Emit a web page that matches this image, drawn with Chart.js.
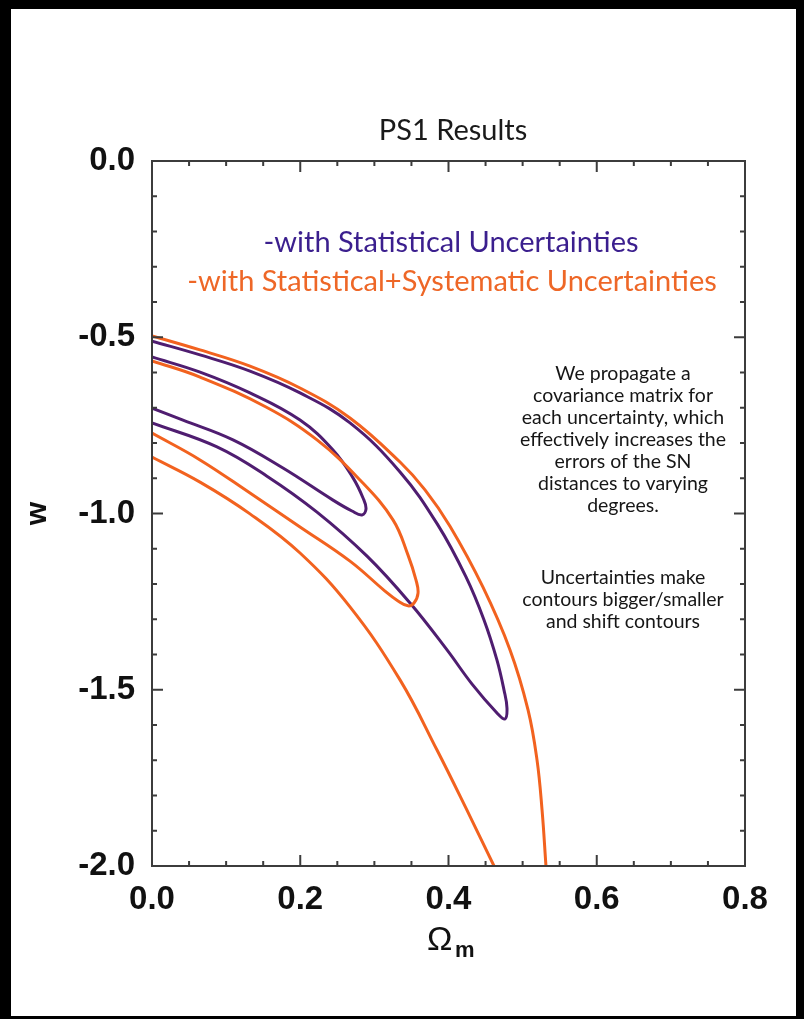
<!DOCTYPE html>
<html>
<head>
<meta charset="utf-8">
<script src="https://cdn.jsdelivr.net/npm/chart.js@4.4.0/dist/chart.umd.min.js"></script>
<style>
  html, body { margin: 0; padding: 0; background: #000; }
  #sheet { position: absolute; left: 11px; top: 9px; width: 785px; height: 1007px; background: #fff; }
  #c { position: absolute; left: 0; top: 0; }
</style>
</head>
<body>
<div id="sheet"></div>
<canvas id="c" width="804" height="1019"></canvas>
<script>
// axis ticks
const xTicks = [0.0, 0.2, 0.4, 0.6, 0.8];
const yTicks = [0.0, -0.5, -1.0, -1.5, -2.0];

// stat only, outer contour (closed against the w axis)
const stat95Om = [0, 0.0648, 0.1322, 0.1997, 0.2671, 0.3346, 0.3858, 0.4236, 0.4479, 0.4654, 0.4749, 0.4789, 0.4762,
                  0.4654, 0.4318, 0.3980, 0.3481, 0.2901, 0.2226, 0.1551, 0.0877, 0];
const stat95W  = [-0.511, -0.550, -0.596, -0.658, -0.743, -0.882, -1.033, -1.180, -1.302, -1.416, -1.501, -1.552, -1.583,
                  -1.566, -1.484, -1.387, -1.254, -1.121, -0.996, -0.894, -0.811, -0.743];

// stat only, inner contour
const stat68Om = [0, 0.0648, 0.1322, 0.1997, 0.2442, 0.2712, 0.2847, 0.2887, 0.2833,
                  0.2698, 0.2442, 0.1767, 0.1093, 0.0418, 0];
const stat68W  = [-0.556, -0.599, -0.658, -0.735, -0.820, -0.899, -0.956, -0.987, -1.004,
                  -0.993, -0.962, -0.871, -0.791, -0.735, -0.701];

// stat+sys, inner contour
const sys68Om = [0, 0.0648, 0.1538, 0.2226, 0.2806, 0.3251, 0.3454, 0.3562, 0.3589, 0.3535, 0.3454,
                 0.3319, 0.3143, 0.2671, 0.1997, 0.1322, 0.0648, 0];
const sys68W  = [-0.567, -0.613, -0.698, -0.791, -0.905, -1.018, -1.118, -1.189, -1.226, -1.254, -1.262,
                 -1.248, -1.220, -1.135, -1.038, -0.942, -0.848, -0.772];

// stat+sys, outer contour (runs off the bottom edge, two branches)
const sys95TopOm = [0, 0.0648, 0.1322, 0.1997, 0.2671, 0.3346, 0.3683, 0.4020, 0.4465, 0.4830, 0.5073, 0.5194, 0.5262, 0.5315];
const sys95TopW  = [-0.496, -0.536, -0.582, -0.644, -0.729, -0.854, -0.933, -1.036, -1.209, -1.387, -1.557, -1.699, -1.841, -2.0];
const sys95BotOm = [0, 0.0648, 0.1322, 0.1997, 0.2671, 0.3346, 0.3845, 0.4236, 0.4614];
const sys95BotW  = [-0.840, -0.911, -1.001, -1.112, -1.265, -1.472, -1.671, -1.836, -2.0];

const orange = '#f2621f';
const purple = '#4f1d70';

function pts(xs, ys) {
  return xs.map((v, i) => ({ x: v, y: ys[i] }));
}

function line(data, color) {
  return {
    data: data,
    borderColor: color,
    borderWidth: 3,
    showLine: true,
    pointRadius: 0,
    tension: 0.4,
    fill: false
  };
}

const frame = {
  id: 'frame',
  afterDatasetsDraw(chart) {
    const { ctx, chartArea: a, scales } = chart;
    const x = scales.x, y = scales.y;
    ctx.save();
    ctx.strokeStyle = '#3c3c3c';
    ctx.lineWidth = 2;
    ctx.strokeRect(a.left, a.top, a.right - a.left, a.bottom - a.top);
    ctx.beginPath();
    for (let i = 0; i <= 16; i++) {
      const v = i * 0.05;
      const len = i % 4 === 0 ? 11 : 5;
      const px = x.getPixelForValue(v);
      ctx.moveTo(px, a.bottom); ctx.lineTo(px, a.bottom - len);
      ctx.moveTo(px, a.top); ctx.lineTo(px, a.top + len);
    }
    for (let i = 0; i <= 20; i++) {
      const v = -i * 0.1;
      const len = i % 5 === 0 ? 11 : 5;
      const py = y.getPixelForValue(v);
      ctx.moveTo(a.left, py); ctx.lineTo(a.left + len, py);
      ctx.moveTo(a.right, py); ctx.lineTo(a.right - len, py);
    }
    ctx.stroke();
    ctx.restore();
  }
};

const notes = {
  id: 'notes',
  afterDraw(chart) {
    const ctx = chart.ctx;
    ctx.save();
    ctx.textAlign = 'center';
    ctx.textBaseline = 'middle';

    ctx.fillStyle = '#1a1a1a';
    ctx.font = '29px Lato';
    ctx.fillText('PS1 Results', 453, 131);

    ctx.font = '29px Lato';
    ctx.fillStyle = '#3b1f8e';
    ctx.fillText('-with Statistical Uncertainties', 451, 243);
    ctx.fillStyle = '#ee6727';
    ctx.fillText('-with Statistical+Systematic Uncertainties', 452, 282);

    ctx.fillStyle = '#161616';
    ctx.font = '19.5px Lato';
    const para = ['We propagate a', 'covariance matrix for', 'each uncertainty, which',
                  'effectively increases the', 'errors of the SN', 'distances to varying', 'degrees.'];
    para.forEach((t, i) => ctx.fillText(t, 623, 374 + i * 22));
    const para2 = ['Uncertainties make', 'contours bigger/smaller', 'and shift contours'];
    para2.forEach((t, i) => ctx.fillText(t, 623, 578 + i * 22));

    // x axis title with subscript
    ctx.fillStyle = '#111';
    ctx.textAlign = 'left';
    ctx.textBaseline = 'alphabetic';
    ctx.font = '34px "Liberation Sans"';
    ctx.fillText('\u03A9', 427, 950);
    ctx.font = 'bold 22px "Liberation Sans"';
    ctx.fillText('m', 455, 957);
    ctx.restore();
  }
};

new Chart(document.getElementById('c'), {
  type: 'scatter',
  data: {
    datasets: [
      line(pts(sys95TopOm, sys95TopW), orange),
      line(pts(sys95BotOm, sys95BotW), orange),
      line(pts(sys68Om, sys68W), orange),
      line(pts(stat95Om, stat95W), purple),
      line(pts(stat68Om, stat68W), purple)
    ]
  },
  options: {
    responsive: false,
    devicePixelRatio: 1,
    animation: false,
    layout: { padding: { left: 11, right: 59, top: 161, bottom: 0 } },
    plugins: {
      legend: { display: false },
      tooltip: { enabled: false },
      title: { display: false }
    },
    scales: {
      x: {
        type: 'linear',
        min: 0, max: 0.8,
        afterBuildTicks: s => { s.ticks = xTicks.map(v => ({ value: v })); },
        afterFit: s => { s.height = 153; },
        grid: { display: false, drawTicks: false },
        border: { display: false },
        ticks: {
          padding: 14,
          color: '#111',
          font: { family: 'Liberation Sans', size: 33, weight: 'bold' },
          callback: v => v.toFixed(1)
        }
      },
      y: {
        type: 'linear',
        min: -2, max: 0,
        afterBuildTicks: s => { s.ticks = yTicks.map(v => ({ value: v })); },
        afterFit: s => { s.width = 141; },
        grid: { display: false, drawTicks: false },
        border: { display: false },
        title: {
          display: true,
          text: 'w',
          color: '#111',
          font: { family: 'Liberation Sans', size: 30, weight: 'bold' },
          padding: { top: 9 }
        },
        ticks: {
          padding: 17,
          color: '#111',
          font: { family: 'Liberation Sans', size: 33, weight: 'bold' },
          callback: v => v.toFixed(1)
        }
      }
    }
  },
  plugins: [frame, notes]
});
</script>
</body>
</html>
